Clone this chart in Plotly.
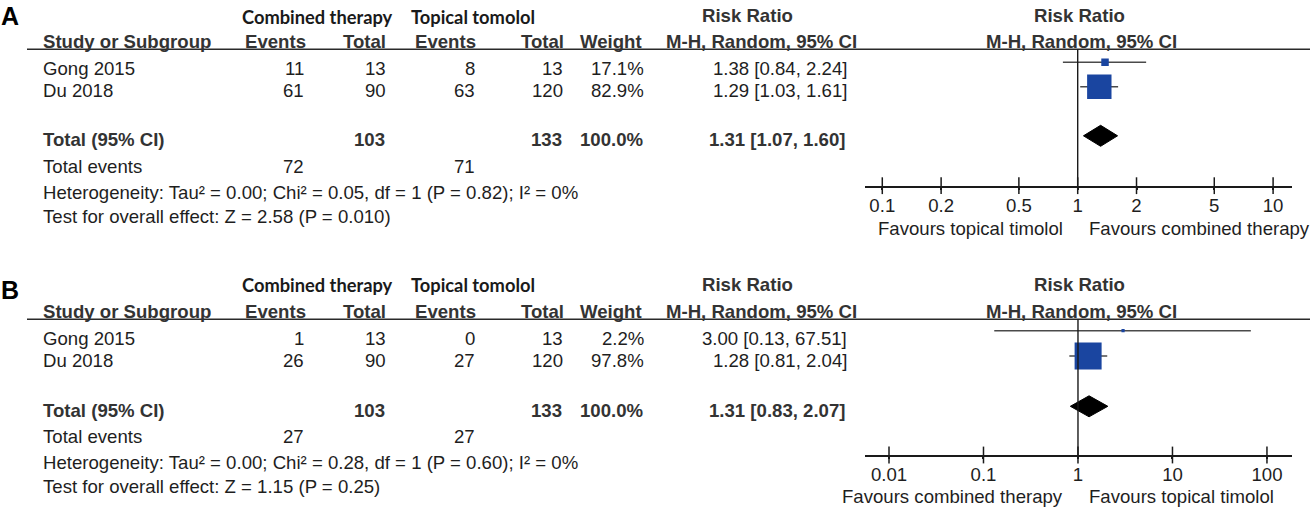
import plotly.graph_objects as go

W, H = 1310, 509

# ---------------- data ----------------
studies = ["Gong 2015", "Du 2018"]

a_comb_events = [11, 61]
a_comb_total = [13, 90]
a_tim_events = [8, 63]
a_tim_total = [13, 120]
a_weight = [17.1, 82.9]
a_rr = [1.38, 1.29]
a_lo = [0.84, 1.03]
a_hi = [2.24, 1.61]
a_pooled = [1.31, 1.07, 1.60]
a_totals = [103, 133]
a_total_events = [72, 71]
a_het = "Heterogeneity: Tau² = 0.00; Chi² = 0.05, df = 1 (P = 0.82); I² = 0%"
a_test = "Test for overall effect: Z = 2.58 (P = 0.010)"
a_ticks = [0.1, 0.2, 0.5, 1, 2, 5, 10]
a_ticklabels = ["0.1", "0.2", "0.5", "1", "2", "5", "10"]
a_favours = ["Favours topical timolol", "Favours combined therapy"]

b_comb_events = [1, 26]
b_comb_total = [13, 90]
b_tim_events = [0, 27]
b_tim_total = [13, 120]
b_weight = [2.2, 97.8]
b_rr = [3.00, 1.28]
b_lo = [0.13, 0.81]
b_hi = [67.51, 2.04]
b_pooled = [1.31, 0.83, 2.07]
b_totals = [103, 133]
b_total_events = [27, 27]
b_het = "Heterogeneity: Tau² = 0.00; Chi² = 0.28, df = 1 (P = 0.60); I² = 0%"
b_test = "Test for overall effect: Z = 1.15 (P = 0.25)"
b_ticks = [0.01, 0.1, 1, 10, 100]
b_ticklabels = ["0.01", "0.1", "1", "10", "100"]
b_favours = ["Favours combined therapy", "Favours topical timolol"]

group_labels = ["Combined therapy", "Topical tomolol"]
col_headers = ["Study or Subgroup", "Events", "Total", "Events", "Total", "Weight"]

# ---------------- style ----------------
FONT = "Liberation Sans, Arial, sans-serif"
FS = 18.6
TXT = "#1e1e1e"
HDR = "#333333"
BLUE = "#1a45a0"

panels = [
    dict(label="A", dy=0, letter_y=16, group_y=17,
         ce=a_comb_events, ct=a_comb_total, te=a_tim_events, tt=a_tim_total,
         w=a_weight, rr=a_rr, lo=a_lo, hi=a_hi, pooled=a_pooled, totals=a_totals,
         tev=a_total_events, het=a_het, test=a_test, ticks=a_ticks, ticklabels=a_ticklabels,
         fav=a_favours, xr=(-1.0885, 1.0967), sq=[7.5, 24.4], pitch=24.5, row0=62.3,
         bot=185.7),
    dict(label="B", dy=270, letter_y=290, group_y=284.5,
         ce=b_comb_events, ct=b_comb_total, te=b_tim_events, tt=b_tim_total,
         w=b_weight, rr=b_rr, lo=b_lo, hi=b_hi, pooled=b_pooled, totals=b_totals,
         tev=b_total_events, het=b_het, test=b_test, ticks=b_ticks, ticklabels=b_ticklabels,
         fav=b_favours, xr=(-2.254, 2.265), sq=[3.2, 27.0], pitch=25.2, row0=60.7,
         bot=455.0),
]

def X(px):
    return px / W

def Y(py):
    return 1 - py / H

fig = go.Figure()
annotations = []
shapes = []

def txt(s, x, y, anchor="left", bold=False, color=TXT, size=FS, family=FONT):
    annotations.append(dict(
        text=s, x=X(x), y=Y(y), xref="paper", yref="paper", xanchor=anchor, yanchor="middle",
        showarrow=False, font=dict(family=family, size=size, color=color,
                                   weight="bold" if bold else "normal"),
    ))

# column edges (px)
LEFT = 40.7
C_EV1, C_TOT1, C_EV2, C_TOT2, C_W, C_CI = 306, 387.5, 476.5, 565, 645, 849
rows_idx = [0, 1]
TOTAL_ROW = 3

for i, p in enumerate(panels):
    dy = p["dy"]
    # panel letter
    txt(p["label"], -1, p["letter_y"], bold=True, size=25, color="#000000")
    # group headers
    txt(group_labels[0], 317, p["group_y"], anchor="center", bold=True, size=18.3,
        family="Lato, Open Sans, sans-serif", color="#1a1a1a")
    txt(group_labels[1], 472.5, p["group_y"], anchor="center", bold=True, size=18.3,
        family="Lato, Open Sans, sans-serif", color="#1a1a1a")
    txt("Risk Ratio", 747, p["letter_y"] if i == 0 else p["group_y"], anchor="center", bold=True, color=HDR)
    txt("Risk Ratio", 1079, p["letter_y"] if i == 0 else p["group_y"], anchor="center", bold=True, color=HDR)
    # column headers
    hy = 41.7 + dy
    txt(col_headers[0], LEFT, hy, bold=True, color=HDR)
    txt(col_headers[1], C_EV1 + 1.5, hy, anchor="right", bold=True, color=HDR)
    txt(col_headers[2], C_TOT1 + 0.5, hy, anchor="right", bold=True, color=HDR)
    txt(col_headers[3], C_EV2 + 1, hy, anchor="right", bold=True, color=HDR)
    txt(col_headers[4], C_TOT2 + 0.5, hy, anchor="right", bold=True, color=HDR)
    txt(col_headers[5], C_W - 1, hy, anchor="right", bold=True, color=HDR)
    txt("M-H, Random, 95% CI", 761.5, hy, anchor="center", bold=True, color=HDR)
    txt("M-H, Random, 95% CI", 1081.5, hy, anchor="center", bold=True, color=HDR)
    # header rule
    shapes.append(dict(type="line", xref="paper", yref="paper", x0=X(27), x1=X(1310),
                       y0=Y(49.2 + dy), y1=Y(49.2 + dy), line=dict(color="#2a2a2a", width=1.6)))
    # study rows
    for k, name in enumerate(studies):
        ry = [68.3, 90.7][k] + dy
        txt(name, LEFT, ry)
        txt(str(p["ce"][k]), C_EV1, ry, anchor="right")
        txt(str(p["ct"][k]), C_TOT1, ry, anchor="right")
        txt(str(p["te"][k]), C_EV2, ry, anchor="right")
        txt(str(p["tt"][k]), C_TOT2, ry, anchor="right")
        txt(f"{p['w'][k]:.1f}%", C_W + 1, ry, anchor="right")
        txt(f"{p['rr'][k]:.2f} [{p['lo'][k]:.2f}, {p['hi'][k]:.2f}]", C_CI, ry, anchor="right")
    # total row
    ty = 140 + dy
    txt("Total (95% CI)", LEFT, ty, bold=True, color=HDR)
    txt(str(p["totals"][0]), C_TOT1 - 1, ty, anchor="right", bold=True, color=HDR)
    txt(str(p["totals"][1]), C_TOT2 - 1, ty, anchor="right", bold=True, color=HDR)
    txt("100.0%", C_W + 1, ty, anchor="right", bold=True, color=HDR)
    pr = p["pooled"]
    txt(f"{pr[0]:.2f} [{pr[1]:.2f}, {pr[2]:.2f}]", C_CI - 2, ty, anchor="right", bold=True, color=HDR)
    ey = 166.7 + dy
    txt("Total events", LEFT, ey)
    txt(str(p["tev"][0]), C_EV1, ey, anchor="right")
    txt(str(p["tev"][1]), C_EV2, ey, anchor="right")
    txt(p["het"], LEFT, 192.7 + dy)
    txt(p["test"], LEFT, 216.7 + dy)

    # ---------- forest plot axes ----------
    top_px = 49.3 + dy
    bot_px = p["bot"]
    row0_px = p["row0"] + dy
    pitch = p["pitch"]
    r_top = (top_px - row0_px) / pitch
    r_bot = (bot_px - row0_px) / pitch
    xa = "xaxis" if i == 0 else "xaxis2"
    ya = "yaxis" if i == 0 else "yaxis2"
    xr = "x" if i == 0 else "x2"
    yr = "y" if i == 0 else "y2"
    fig.layout[xa] = dict(
        type="log", domain=[X(865), X(1292)], range=list(p["xr"]), anchor=yr,
        showline=True, linecolor="#1a1a1a", linewidth=1.6, showgrid=False, zeroline=False,
        tickvals=p["ticks"], ticktext=p["ticklabels"], ticks="outside", ticklen=2,
        tickwidth=1.5, tickcolor="#1a1a1a",
        tickfont=dict(family=FONT, size=FS, color=TXT), fixedrange=True,
    )
    fig.layout[ya] = dict(
        domain=[Y(bot_px), Y(top_px)], range=[r_bot, r_top], anchor=xr, visible=False,
        showgrid=False, zeroline=False, fixedrange=True,
    )
    # line of no effect
    shapes.append(dict(type="line", xref=xr, yref=f"{yr} domain", x0=1, x1=1, y0=0, y1=1,
                       line=dict(color="#1a1a1a", width=1.4)))
    # crossing tick marks
    fig.add_trace(go.Scatter(
        x=p["ticks"], y=[r_bot] * len(p["ticks"]), xaxis=xr, yaxis=yr, mode="markers",
        marker=dict(symbol="line-ns", size=12, opacity=1, line=dict(color="#1a1a1a", width=1.5)),
        cliponaxis=False, hoverinfo="skip", showlegend=False,
    ))
    # CI lines
    cx, cy = [], []
    for k in range(len(studies)):
        cx += [p["lo"][k], p["hi"][k], None]
        cy += [rows_idx[k], rows_idx[k], None]
    fig.add_trace(go.Scatter(x=cx, y=cy, xaxis=xr, yaxis=yr, mode="lines",
                             line=dict(color="#4a4a4a", width=1.5), hoverinfo="skip",
                             showlegend=False, cliponaxis=False))
    # squares
    fig.add_trace(go.Scatter(
        x=p["rr"], y=rows_idx, xaxis=xr, yaxis=yr, mode="markers",
        marker=dict(symbol="square", size=p["sq"], color=BLUE, opacity=1, line=dict(width=0)),
        hoverinfo="skip", showlegend=False,
    ))
    # diamond
    h = 10.5 / pitch
    fig.add_trace(go.Scatter(
        x=[pr[1], pr[0], pr[2], pr[0], pr[1]],
        y=[TOTAL_ROW, TOTAL_ROW - h, TOTAL_ROW, TOTAL_ROW + h, TOTAL_ROW],
        xaxis=xr, yaxis=yr, mode="lines", fill="toself", fillcolor="#000000",
        line=dict(color="#000000", width=1), hoverinfo="skip", showlegend=False,
    ))
    # favours labels
    fy = 228.3 + dy - (1.5 if i == 1 else 0)
    txt(p["fav"][0], 1065, fy, anchor="right")
    txt(p["fav"][1], 1086.5, fy, anchor="left")

fig.update_layout(
    width=W, height=H, margin=dict(l=0, r=0, t=0, b=0),
    paper_bgcolor="white", plot_bgcolor="white",
    annotations=annotations, shapes=shapes, showlegend=False,
)

fig.write_html(
    "out.html",
    config={"displayModeBar": False},
    post_script="document.body.style.margin='0';document.body.style.overflow='hidden';",
)
